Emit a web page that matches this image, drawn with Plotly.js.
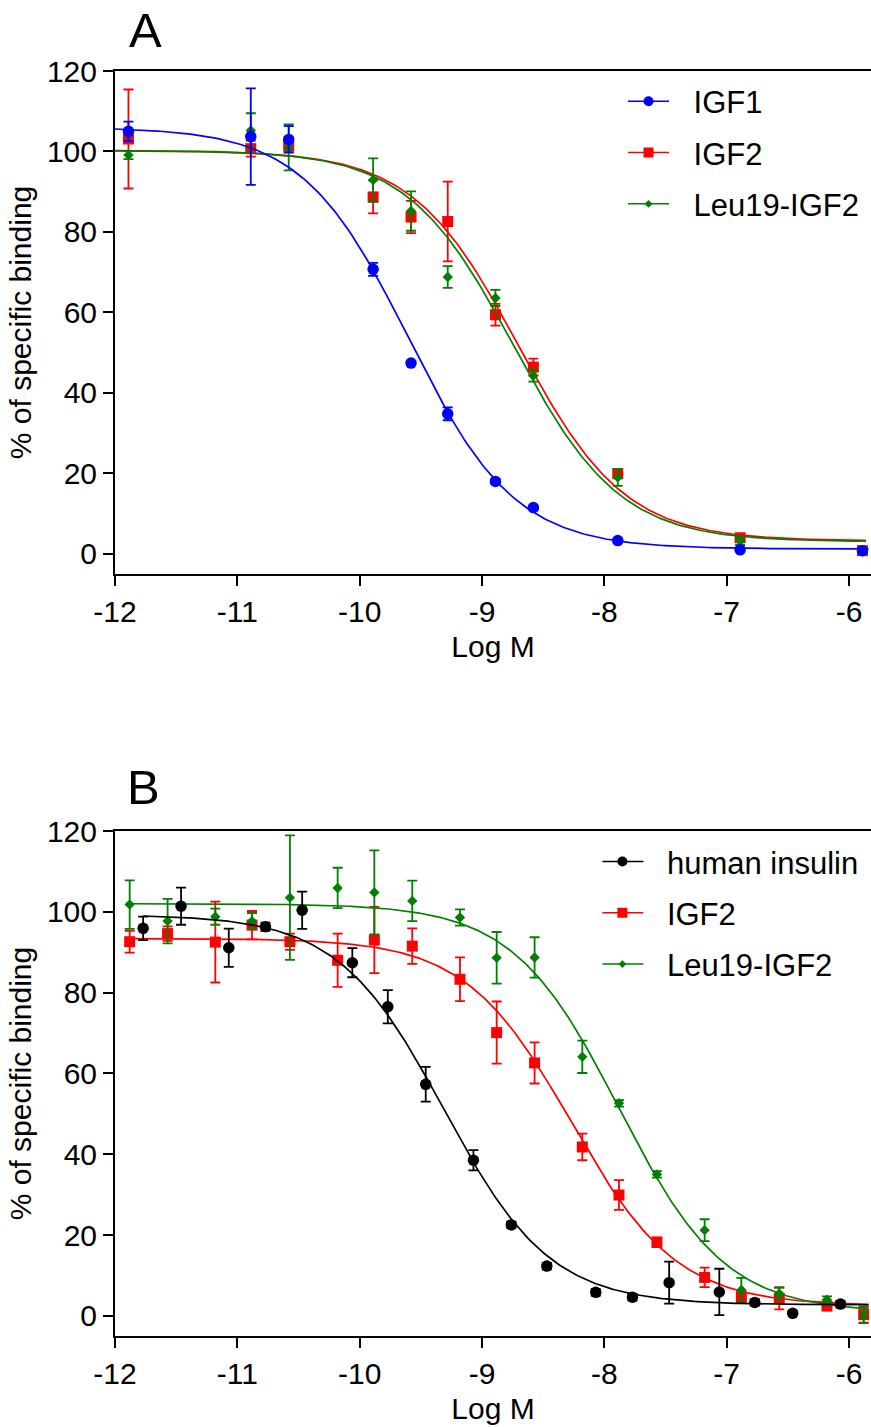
<!DOCTYPE html>
<html>
<head>
<meta charset="utf-8">
<script src="https://cdn.plot.ly/plotly-3.0.1.min.js"></script>
<style>html,body{margin:0;padding:0;background:#fff;}#chart{width:871px;height:1427px;}</style>
</head>
<body>
<div id="chart"></div>
<script>
// ---------- Panel A data (Log M, % of specific binding, SEM) ----------
var xA = [-11.89, -10.89, -10.58, -9.89, -9.58, -9.28, -8.89, -8.58, -7.89, -6.89, -5.89];
var yA_IGF1 = [105.0, 103.7, 103.0, 70.7, 47.4, 34.8, 18.0, 11.5, 3.3, 1.0, 0.8];
var eA_IGF1 = [2.4, 12.0, 3.3, 1.6, 0.5, 1.6, 0.5, 0.5, 0.5, 0.3, 0.3];
var yA_IGF2 = [103.1, 100.7, 101.4, 88.7, 83.7, 82.6, 59.4, 46.4, 19.9, 4.0, 0.8];
var eA_IGF2 = [12.3, 2.0, 1.5, 4.1, 4.0, 9.9, 2.7, 2.1, 1.0, 0.8, 0.5];
var yA_Leu = [99.1, 105.2, 101.0, 92.9, 85.2, 68.8, 63.6, 44.3, 19.0, 3.2, 0.6];
var eA_Leu = [1.0, 4.3, 5.7, 5.4, 4.9, 2.7, 2.0, 1.5, 2.1, 1.0, 0.5];

// ---------- Panel B data ----------
var xB_ins = [-11.77, -11.46, -11.07, -10.77, -10.47, -10.06, -9.77, -9.46, -9.07, -8.76, -8.47, -8.07, -7.77, -7.47, -7.06, -6.77, -6.46, -6.07];
var yB_ins = [95.9, 101.4, 91.1, 96.3, 100.4, 87.4, 76.5, 57.3, 38.5, 22.5, 12.3, 5.8, 4.6, 8.2, 5.9, 3.3, 0.6, 2.9];
var eB_ins = [2.9, 4.6, 4.75, 1.0, 4.6, 3.6, 4.1, 4.3, 2.5, 0.8, 0.8, 0.8, 0.8, 5.2, 5.75, 0.8, 0.5, 0.8];
var xB = [-11.88, -11.57, -11.18, -10.88, -10.57, -10.18, -9.88, -9.57, -9.18, -8.88, -8.57, -8.18, -7.88, -7.57, -7.18, -6.88, -6.57, -6.18, -5.88];
var yB_IGF2 = [92.6, 94.6, 92.5, 96.7, 92.6, 88.0, 93.0, 91.5, 83.3, 70.1, 62.6, 41.8, 29.9, 18.2, 9.5, 4.7, 4.3, 2.4, 0.3];
var eB_IGF2 = [2.7, 1.8, 10.0, 3.5, 2.0, 6.6, 8.2, 4.4, 5.4, 7.7, 5.1, 3.3, 3.7, 1.2, 2.4, 1.5, 2.7, 1.0, 2.0];
var yB_Leu = [101.8, 97.7, 98.8, 97.7, 103.5, 105.9, 104.8, 102.7, 98.6, 88.6, 88.7, 64.1, 52.6, 35.0, 21.2, 6.4, 5.5, 4.0, 0.2];
var eB_Leu = [6.0, 5.5, 2.0, 2.0, 15.4, 5.0, 10.4, 5.0, 2.0, 6.4, 5.0, 4.0, 0.8, 0.8, 2.7, 3.0, 1.5, 0.8, 2.0];

// ---------- Fitted 4-parameter logistic curves ----------
// order: [IGF1, IGF2, Leu19-IGF2] for A ; [insulin, IGF2, Leu19-IGF2] for B
var fitTopA = [106.0, 100.2, 100.3];
var fitBottomA = [1.2, 3.2, 3.0];
var fitLogIC50A = [-9.60, -8.70, -8.74];
var fitHillA = [1, 1, 1];
var fitStartA = [-12, -12, -12];
var fitEndA = [-5.84, -5.86, -5.86];

var fitTopB = [99.3, 93.4, 102.0];
var fitBottomB = [2.7, 2.5, 0.8];
var fitLogIC50B = [-9.31, -8.27, -7.88];
var fitHillB = [1, 1, 1];
var fitStartB = [-11.77, -11.90, -11.88];
var fitEndB = [-5.84, -5.84, -5.84];

var namesA = ['IGF1', 'IGF2', 'Leu19-IGF2'];
var namesB = ['human insulin', 'IGF2', 'Leu19-IGF2'];
var colorsA = ['#0000ff', '#ff0000', '#008000'];
var colorsB = ['#000000', '#ff0000', '#008000'];
var symbols = ['circle', 'square', 'diamond'];
var msize = [11.5, 11, 8];
var legSize = [10, 10, 6];

function curve(top, bot, c, h, x0, x1) {
  var xs = [], ys = [];
  var n = 300;
  for (var i = 0; i <= n; i++) {
    var x = x0 + (x1 - x0) * i / n;
    xs.push(x);
    ys.push(bot + (top - bot) / (1 + Math.pow(10, (x - c) * h)));
  }
  return {x: xs, y: ys};
}

var FONT = 'Liberation Sans, Arial, sans-serif';
// legend sample: 80px item, only a 41px stroke centred on the marker
var LEG_DASH = '0px,19.5px,41px,200px';
var traces = [];

// legend entries
for (var i = 0; i < 3; i++) {
  traces.push({x: [null], y: [null], type: 'scatter', mode: 'lines+markers', name: namesA[i],
    legend: 'legend', legendgroup: 'a' + i, xaxis: 'x', yaxis: 'y',
    line: {color: colorsA[i], width: 1.6, dash: LEG_DASH}, marker: {color: colorsA[i], symbol: symbols[i], size: legSize[i]}});
}
for (var i = 0; i < 3; i++) {
  traces.push({x: [null], y: [null], type: 'scatter', mode: 'lines+markers', name: namesB[i],
    legend: 'legend2', legendgroup: 'b' + i, xaxis: 'x2', yaxis: 'y2',
    line: {color: colorsB[i], width: 1.6, dash: LEG_DASH}, marker: {color: colorsB[i], symbol: symbols[i], size: legSize[i]}});
}

function addSeries(xs, ys, es, idx, colors, fitArr, xa, ya) {
  var c = curve(fitArr[0][idx], fitArr[1][idx], fitArr[2][idx], fitArr[3][idx], fitArr[4][idx], fitArr[5][idx]);
  traces.push({x: c.x, y: c.y, type: 'scatter', mode: 'lines', showlegend: false, xaxis: xa, yaxis: ya,
    line: {color: colors[idx], width: 1.7}, hoverinfo: 'skip'});
  traces.push({x: xs, y: ys, type: 'scatter', mode: 'markers', showlegend: false, xaxis: xa, yaxis: ya,
    marker: {color: colors[idx], symbol: symbols[idx], size: msize[idx]},
    error_y: {type: 'data', array: es, visible: true, color: colors[idx], thickness: 1.8, width: 5}});
}
var fitsA = [fitTopA, fitBottomA, fitLogIC50A, fitHillA, fitStartA, fitEndA];
var fitsB = [fitTopB, fitBottomB, fitLogIC50B, fitHillB, fitStartB, fitEndB];

// draw order: IGF2, Leu19, then first series on top
addSeries(xA, yA_IGF2, eA_IGF2, 1, colorsA, fitsA, 'x', 'y');
addSeries(xA, yA_Leu, eA_Leu, 2, colorsA, fitsA, 'x', 'y');
addSeries(xA, yA_IGF1, eA_IGF1, 0, colorsA, fitsA, 'x', 'y');
addSeries(xB, yB_IGF2, eB_IGF2, 1, colorsB, fitsB, 'x2', 'y2');
addSeries(xB, yB_Leu, eB_Leu, 2, colorsB, fitsB, 'x2', 'y2');
addSeries(xB_ins, yB_ins, eB_ins, 0, colorsB, fitsB, 'x2', 'y2');

function xax(anchor) {
  return {anchor: anchor, domain: [0, 1], range: [-12, -5.82], tickmode: 'array',
    tickvals: [-12, -11, -10, -9, -8, -7, -6], ticktext: ['-12', '-11', '-10', '-9', '-8', '-7', '-6'],
    showgrid: false, zeroline: false, showline: true, linecolor: '#000', linewidth: 2, mirror: true,
    ticks: 'outside', ticklen: 10, tickwidth: 2, tickcolor: '#000',
    tickfont: {family: FONT, size: 30, color: '#000'},
    title: {text: 'Log M', font: {family: FONT, size: 30, color: '#000'}, standoff: 9}};
}
function yax(anchor, dom) {
  return {anchor: anchor, domain: dom, range: [-5, 120], tickmode: 'array',
    tickvals: [0, 20, 40, 60, 80, 100, 120], ticktext: ['0', '20', '40', '60', '80', '100', '120'],
    showgrid: false, zeroline: false, showline: true, linecolor: '#000', linewidth: 2,
    ticks: 'outside', ticklen: 10, tickwidth: 2, tickcolor: '#000',
    tickfont: {family: FONT, size: 30, color: '#000'},
    title: {text: '% of specific binding', font: {family: FONT, size: 30, color: '#000'}, standoff: 6}};
}

var layout = {
  width: 871, height: 1427,
  margin: {l: 115, r: 0, t: 71, b: 91},
  paper_bgcolor: '#fff', plot_bgcolor: '#fff',
  font: {family: FONT, color: '#000'},
  xaxis: xax('y'), yaxis: yax('x', [0.6024, 1]),
  xaxis2: xax('y2'), yaxis2: yax('x2', [0, 0.3992]),
  legend: {x: 0.6462, y: 0.9972, xanchor: 'left', yanchor: 'top', bgcolor: 'rgba(0,0,0,0)',
    font: {family: FONT, size: 31, color: '#000'}, tracegroupgap: 8, itemwidth: 80},
  legend2: {x: 0.6123, y: 0.3962, xanchor: 'left', yanchor: 'top', bgcolor: 'rgba(0,0,0,0)',
    font: {family: FONT, size: 31, color: '#000'}, tracegroupgap: 8, itemwidth: 79},
  annotations: [
    {text: 'A', xref: 'paper', yref: 'paper', x: 0.0397, y: 1.0324, xanchor: 'center', yanchor: 'middle',
      showarrow: false, font: {family: FONT, size: 49, color: '#000'}},
    {text: 'B', xref: 'paper', yref: 'paper', x: 0.0377, y: 0.4336, xanchor: 'center', yanchor: 'middle',
      showarrow: false, font: {family: FONT, size: 49, color: '#000'}}
  ],
  showlegend: true
};

Plotly.newPlot('chart', traces, layout, {staticPlot: true, displayModeBar: false});
</script>
</body>
</html>
